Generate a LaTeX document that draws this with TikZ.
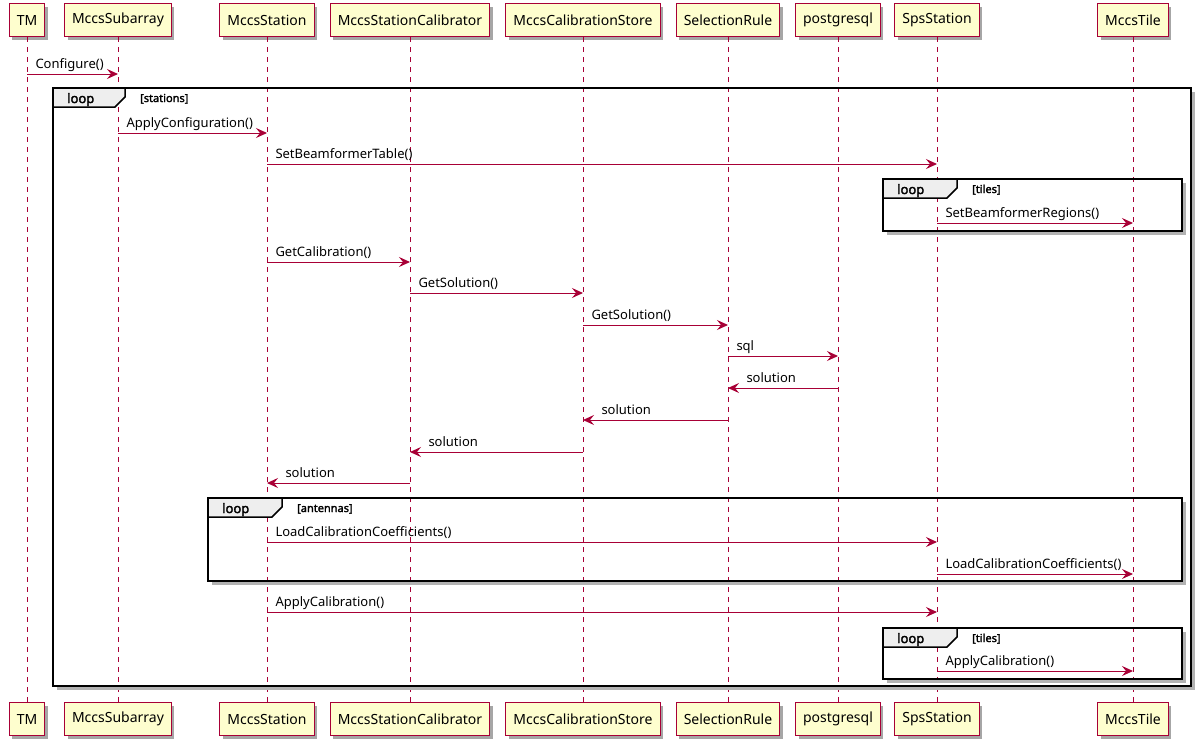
\documentclass[tikz,border=0pt]{standalone}
\usepackage{fontspec}
\setmainfont{Noto Sans}[AutoFakeBold=2.2]
\usetikzlibrary{arrows.meta,shadows}

\definecolor{umlRed}{HTML}{A80036}
\definecolor{umlFill}{HTML}{FEFECE}
\definecolor{tabFill}{HTML}{EEEEEE}

\tikzset{
  actor/.style={rectangle,draw=umlRed,fill=umlFill,line width=1pt,
    minimum height=33pt,inner xsep=7.5pt,inner ysep=0pt,
    font=\fontsize{14}{16}\selectfont,
    drop shadow={shadow xshift=3pt,shadow yshift=-3pt,opacity=0.35,fill=black}},
  life/.style={draw=umlRed,line width=0.8pt,dash pattern=on 5pt off 5pt},
  msg/.style={draw=umlRed,line width=1pt,-{Stealth[length=11pt,width=10pt,inset=4pt]}},
  msgtext/.style={font=\fontsize{13}{15}\selectfont,inner sep=0pt,anchor=base west},
  frame/.style={draw=black,line width=1.5pt},
  frameshade/.style={draw=black!30,line width=3pt},
  looptext/.style={font=\fontsize{13}{15}\selectfont\bfseries,inner sep=0pt,anchor=base west},
  guardtext/.style={font=\fontsize{11}{13}\selectfont\bfseries,inner sep=0pt,anchor=base west}
}

% call from #1 to #2 at height #3
\newcommand{\seqcall}[4]{%
  \draw[msg] (#1 |- 0,#3) -- (#2 |- 0,#3)
    node[msgtext,pos=0,xshift=8pt,yshift=6pt] {#4};}
% return from #1 to #2 at height #3
\newcommand{\seqback}[4]{%
  \draw[msg] (#1 |- 0,#3) -- (#2 |- 0,#3)
    node[msgtext,pos=1,xshift=18pt,yshift=6pt] {#4};}
% loop frame: name, left, top, right, bottom, tab end, guard
\newcommand{\seqloop}[7]{%
  \draw[frameshade] ({#2+4},{#5+2.5}) -- ({#4+2.5},{#5+2.5}) -- ({#4+2.5},{#3+4});
  \draw[frame] (#2,#3) rectangle (#4,#5);
  \draw[frame,fill=tabFill] (#2,#3) -- (#6,#3) -- (#6,{#3+9}) -- ({#6-10},{#3+19}) -- (#2,{#3+19}) -- cycle;
  \node[looptext] (#1) at ({#2+14},{#3+15}) {loop};
  \node[guardtext] (#1g) at ({#6+15},{#3+14}) {[#7]};}

\begin{document}
\begin{tikzpicture}[x=1pt,y=-1pt]
  \useasboundingbox (0,0) rectangle (1201,745);

  % participants, top and bottom
  \foreach \n/\x/\t in {tm/27/TM,sub/118/MccsSubarray,stn/267/MccsStation,
      cal/410/MccsStationCalibrator,store/583/MccsCalibrationStore,
      rule/728/SelectionRule,pg/838/postgresql,sps/937/SpsStation,tile/1133/MccsTile}{
    \node[actor] (\n) at (\x,20) {\t};
    \node[actor] (\n B) at (\x,719) {\t};
    \draw[life] (\n) -- (\n B);
  }

  % frames
  \seqloop{stations}{53}{88}{1191}{686}{125}{stations}
  \seqloop{tilesA}{883}{179}{1182}{231}{957}{tiles}
  \seqloop{antennas}{208}{498}{1182}{581}{282}{antennas}
  \seqloop{tilesB}{883}{628}{1182}{679}{957}{tiles}

  % messages
  \seqcall{tm}{sub}{74}{Configure()}
  \seqcall{sub}{stn}{133}{ApplyConfiguration()}
  \seqcall{stn}{sps}{164}{SetBeamformerTable()}
  \seqcall{sps}{tile}{223}{SetBeamformerRegions()}
  \seqcall{stn}{cal}{262}{GetCalibration()}
  \seqcall{cal}{store}{293}{GetSolution()}
  \seqcall{store}{rule}{325}{GetSolution()}
  \seqcall{rule}{pg}{356}{sql}
  \seqback{pg}{rule}{388}{solution}
  \seqback{rule}{store}{420}{solution}
  \seqback{store}{cal}{452}{solution}
  \seqback{cal}{stn}{483}{solution}
  \seqcall{stn}{sps}{542}{LoadCalibrationCoefficients()}
  \seqcall{sps}{tile}{574}{LoadCalibrationCoefficients()}
  \seqcall{stn}{sps}{612}{ApplyCalibration()}
  \seqcall{sps}{tile}{671}{ApplyCalibration()}
\end{tikzpicture}
\end{document}
